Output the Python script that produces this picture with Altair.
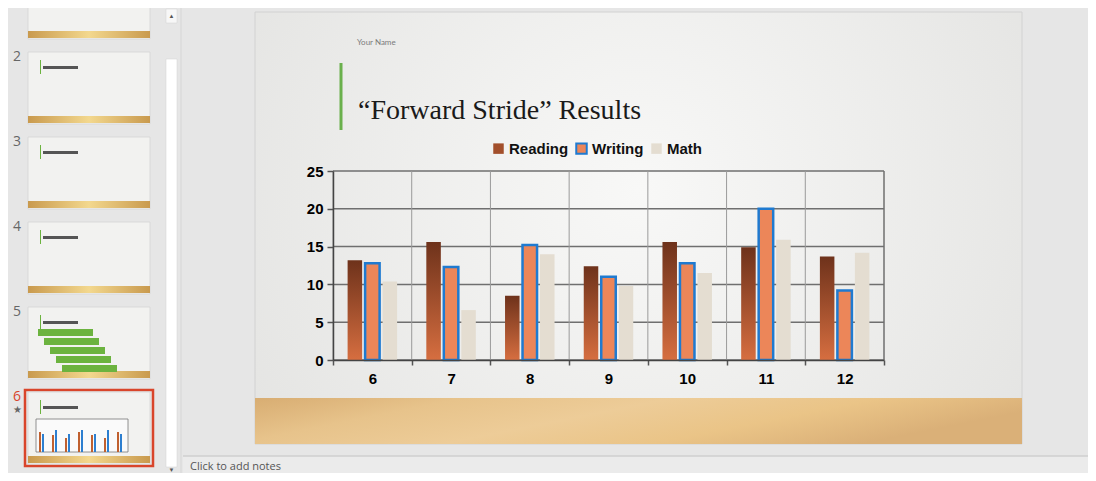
import altair as alt
import pandas as pd

grades = ["6", "7", "8", "9", "10", "11", "12"]
subjects = ["Reading", "Writing", "Math"]
reading = [13.2, 15.6, 8.5, 12.4, 15.6, 14.9, 13.7]
writing = [12.8, 12.3, 15.2, 11.0, 12.8, 20.0, 9.2]
math = [10.4, 6.6, 14.0, 9.8, 11.5, 15.9, 14.2]
y_ticks = [0, 5, 10, 15, 20, 25]
thumb_numbers = ["2", "3", "4", "5", "6"]

rows = []
for i, g in enumerate(grades):
    for s, vals in zip(subjects, [reading, writing, math]):
        rows.append({"grade": g, "subject": s, "score": vals[i]})
df = pd.DataFrame(rows)
grade_df = pd.DataFrame({"grade": grades})
tick_df = pd.DataFrame({"score": y_ticks})

reading_grad = {
    "gradient": "linear", "x1": 0, "x2": 0, "y1": 0, "y2": 1,
    "stops": [{"offset": 0, "color": "#6e321b"}, {"offset": 1, "color": "#d66e40"}],
}
slide_grad = {
    "gradient": "radial", "x1": 0.5, "y1": 0.45, "x2": 0.5, "y2": 0.45, "r1": 0, "r2": 0.75,
    "stops": [{"offset": 0, "color": "#f8f8f7"}, {"offset": 1, "color": "#dfdfdd"}],
}
wood_grad = {
    "gradient": "linear", "x1": 0, "x2": 1, "y1": 0, "y2": 0.3,
    "stops": [
        {"offset": 0, "color": "#d8ad72"},
        {"offset": 0.25, "color": "#e7c38b"},
        {"offset": 0.5, "color": "#edcc98"},
        {"offset": 0.75, "color": "#eac487"},
        {"offset": 1, "color": "#dab078"},
    ],
}
gold_grad = {
    "gradient": "linear", "x1": 0, "x2": 1, "y1": 0, "y2": 0,
    "stops": [
        {"offset": 0, "color": "#c99a4e"},
        {"offset": 0.5, "color": "#f3d88e"},
        {"offset": 1, "color": "#c99a4e"},
    ],
}

one = alt.Data(values=[{}])


def box(x, x2, y, y2, **kw):
    return alt.Chart(one).mark_rect(**kw).encode(
        x=alt.value(x), x2=alt.value(x2), y=alt.value(y), y2=alt.value(y2)
    )


def label(txt, x, y, **kw):
    return alt.Chart(one).mark_text(text=txt, **kw).encode(x=alt.value(x), y=alt.value(y))


decor = []
# notes pane
decor.append(box(-150, 763, 285, 310, fill="#ebebeb"))
decor.append(alt.Chart(one).mark_rule(color="#cfcfcf", strokeWidth=1.5).encode(
    x=alt.value(-150), x2=alt.value(763), y=alt.value(285)))
decor.append(label("Click to add notes", -143, 296, align="left", baseline="middle",
                   font="Open Sans", fontSize=11, color="#555555"))
# thumbnail pane divider and scrollbar
decor.append(alt.Chart(one).mark_rule(color="#d6d6d6", strokeWidth=1).encode(
    x=alt.value(-152), y=alt.value(-170), y2=alt.value(310)))
decor.append(box(-167, -156, -112, 296, fill="#ffffff", stroke="#d0d0d0", strokeWidth=0.5))
decor.append(box(-167, -156, -162, -148, fill="#f7f7f7", stroke="#d0d0d0", strokeWidth=0.5))
decor.append(label("\u25b2", -161.5, -155, fontSize=6, color="#555555", align="center", baseline="middle"))
decor.append(label("\u25bc", -161.5, 299, fontSize=6, color="#555555", align="center", baseline="middle"))
# thumbnails
thumb_tops = [-204, -119, -34, 51, 136, 221]
for k, top in enumerate(thumb_tops):
    if k == 5:
        decor.append(box(-308, -180, top - 2, top + 74, fill="#e6e6e6", stroke="#d9452b", strokeWidth=2.5))
    decor.append(box(-305, -183, top, top + 72, fill="#f2f2f0", stroke="#d4d4d4", strokeWidth=0.8))
    decor.append(box(-305, -183, top + 64, top + 71, fill=gold_grad))
    if k == 4:
        for j in range(5):
            decor.append(box(-295 + 6 * j, -240 + 6 * j, top + 22 + 9 * j, top + 29 + 9 * j, fill="#6cb33f"))
    if k > 0:
        decor.append(box(-293, -292, top + 8, top + 22, fill="#6cb33f"))
        decor.append(box(-290, -255, top + 14, top + 17, fill="#555555"))
    if k == 5:
        decor.append(box(-297, -205, top + 27, top + 60, fill="#fafafa", stroke="#777777", strokeWidth=0.8))
        for j in range(7):
            decor.append(box(-294 + 13 * j, -292 + 13 * j, top + 40 + (j % 3) * 3, top + 60, fill="#c0602f"))
            decor.append(box(-291 + 13 * j, -289 + 13 * j, top + 42 - (j % 2) * 4, top + 60, fill="#2d7fd0"))
for k, num in enumerate(thumb_numbers):
    decor.append(label(num, -316, thumb_tops[k + 1] + 5, fontSize=14, font="Open Sans",
                       color="#d9452b" if num == "6" else "#666666", align="center", baseline="middle"))
decor.append(label("\u2605", -316, 239, fontSize=10, color="#666666", align="center", baseline="middle"))
# the slide
decor.append(box(-78, 689, -159, 273, fill=slide_grad, stroke="#d2d2d2", strokeWidth=1))
decor.append(box(-78, 689, 227, 273, fill=wood_grad))
decor.append(alt.Chart(one).mark_rule(color="#6ab04c", strokeWidth=3).encode(
    x=alt.value(8), y=alt.value(-108), y2=alt.value(-41)))
decor.append(label("Your Name", 24, -128, align="left", baseline="middle",
                   font="Lato", fontSize=8, color="#7a7a7a"))
decor.append(label("\u201cForward Stride\u201d Results", 25, -52, align="left", baseline="alphabetic",
                   font="Liberation Serif", fontSize=28, color="#1a1a1a"))

x_axis = alt.Axis(
    title=None, labelAngle=0, tickBand="extent", grid=False, zindex=1,
    labelFont="Liberation Sans", labelFontWeight="bold", labelFontSize=15,
    labelColor="#000000", labelPadding=6, tickColor="#555555", tickSize=5,
    tickWidth=1.5, domainColor="#444444", domainWidth=1.5,
)
y_axis = alt.Axis(
    title=None, values=y_ticks, grid=False, zindex=1, labelOverlap=False,
    labelFont="Liberation Sans", labelFontWeight="bold", labelFontSize=15,
    labelColor="#000000", labelPadding=4, tickColor="#555555", tickSize=6,
    tickWidth=1.5, domainColor="#444444", domainWidth=1.5,
)
x_scale = alt.Scale(paddingInner=0, paddingOuter=0)
y_scale = alt.Scale(domain=[0, 25])

# gridlines drawn as rules from the tick values and grade bands (behind the bars)
hgrid = alt.Chart(tick_df).mark_rule(color="#6f6f6f", strokeWidth=1.5).encode(
    y=alt.Y("score:Q", scale=y_scale, axis=y_axis)
)
vgrid = alt.Chart(grade_df).mark_rule(color="#9a9a9a", strokeWidth=1).encode(
    x=alt.X("grade:N", sort=grades, bandPosition=0, scale=x_scale, axis=x_axis)
)
vgrid_end = alt.Chart(grade_df).transform_filter("datum.grade === '12'").mark_rule(
    color="#6f6f6f", strokeWidth=1.5
).encode(x=alt.X("grade:N", sort=grades, bandPosition=1, scale=x_scale, axis=x_axis))

legend_cfg = dict(
    title=None, orient="none", legendX=158, legendY=-30, direction="horizontal",
    symbolType="square", symbolSize=110, symbolStrokeWidth=2,
    labelFont="Liberation Sans", labelFontWeight="bold", labelFontSize=15,
    labelColor="#111111", columnPadding=3, labelOffset=3,
)

bars = alt.Chart(df).mark_bar(strokeWidth=2.5).encode(
    x=alt.X("grade:N", sort=grades, scale=x_scale, axis=x_axis),
    xOffset=alt.XOffset(
        "subject:N", sort=subjects,
        scale=alt.Scale(paddingInner=0.17, paddingOuter=0.835),
    ),
    y=alt.Y("score:Q", scale=y_scale, axis=y_axis),
    fill=alt.condition(
        "datum.subject === 'Reading'",
        alt.value(reading_grad),
        alt.Fill(
            "subject:N",
            scale=alt.Scale(domain=subjects, range=["#a24f2b", "#ec8659", "#e4ddd1"]),
            legend=alt.Legend(**legend_cfg),
        ),
    ),
    stroke=alt.Stroke(
        "subject:N",
        scale=alt.Scale(domain=subjects, range=["transparent", "#1f7ad0", "transparent"]),
        legend=alt.Legend(**legend_cfg),
    ),
)

chart = alt.layer(*decor, hgrid, vgrid, vgrid_end, bars).properties(
    width=551,
    height=189,
    autosize="none",
    padding={"left": 325, "top": 163, "right": 204, "bottom": 113},
    background="#e6e6e6",
).configure_view(stroke=None)

chart.save("out.html", embed_options={"renderer": "svg", "actions": False})
